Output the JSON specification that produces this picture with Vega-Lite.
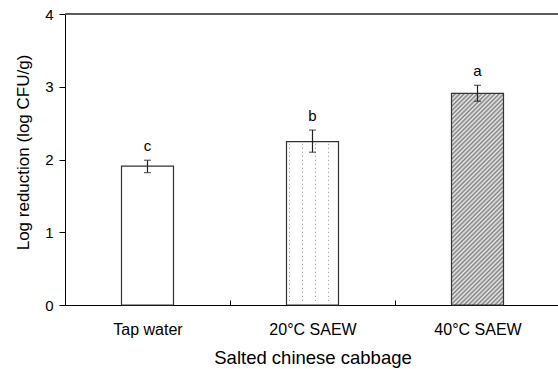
{
  "$schema": "https://vega.github.io/schema/vega-lite/v6.json",
  "autosize": "none",
  "padding": {"left": 65, "top": 14, "right": 0, "bottom": 64},
  "width": 493,
  "height": 291,
  "background": "white",
  "config": {"font": "Liberation Sans", "view": {"stroke": null}},
  "data": {"values": [
    {"treat": "Tap water", "mean": 1.91, "lo": 1.82, "hi": 1.99, "letter": "c"},
    {"treat": "20°C SAEW", "mean": 2.245, "lo": 2.10, "hi": 2.405, "letter": "b"},
    {"treat": "40°C SAEW", "mean": 2.91, "lo": 2.80, "hi": 3.02, "letter": "a"}
  ]},
  "layer": [
    {
      "encoding": {
        "x": {
          "field": "treat", "type": "nominal", "sort": null,
          "scale": {"range": [0, 495], "paddingInner": 0, "paddingOuter": 0},
          "axis": {
            "title": "Salted chinese cabbage", "titleFontSize": 18.5, "titleFontWeight": "normal", "titleColor": "black",
            "titleY": 43, "titleBaseline": "top",
            "labelAngle": 0, "labelFontSize": 16, "labelColor": "black", "labelPadding": 21,
            "tickBand": "extent", "tickSize": -5, "tickColor": "black", "domainColor": "black", "grid": false
          }
        }
      },
      "layer": [
        {
          "transform": [{"filter": "datum.letter === 'c'"}],
          "mark": {"type": "bar", "width": 52, "fill": "white", "stroke": "#333", "strokeWidth": 1.2},
          "encoding": {
            "y": {
              "field": "mean", "type": "quantitative",
              "scale": {"domain": [0, 4], "nice": false},
              "axis": {
                "values": [0, 0.5, 1, 1.5, 2, 2.5, 3, 3.5, 4], "format": "d",
                "labelExpr": "datum.value % 1 === 0 ? datum.label : ''",
                "tickSize": {"condition": {"test": "datum.value % 1 === 0", "value": 6}, "value": 3},
                "tickColor": "black", "domainColor": "black", "grid": false,
                "labelFontSize": 15, "labelColor": "black", "labelPadding": 6,
                "title": "Log reduction (log CFU/g)", "titleFontSize": 17, "titleFontWeight": "normal", "titleColor": "black",
                "titleX": -42, "titleY": 138, "titleBaseline": "middle", "titleAlign": "center", "titleAngle": -90
              }
            }
          }
        },
        {
          "transform": [{"filter": "datum.letter === 'b'"}],
          "mark": {"type": "bar", "width": 52, "strokeWidth": 0,
            "fill": {"gradient": "linear", "x1": 0, "y1": 0, "x2": 1, "y2": 0, "stops": [
              {"offset": 0, "color": "#ffffff"},
              {"offset": 0.0481, "color": "#ffffff"}, {"offset": 0.0481, "color": "#6e6e6e"}, {"offset": 0.0673, "color": "#6e6e6e"}, {"offset": 0.0673, "color": "#ffffff"},
              {"offset": 0.1731, "color": "#ffffff"}, {"offset": 0.1731, "color": "#6e6e6e"}, {"offset": 0.1923, "color": "#6e6e6e"}, {"offset": 0.1923, "color": "#ffffff"},
              {"offset": 0.2981, "color": "#ffffff"}, {"offset": 0.2981, "color": "#6e6e6e"}, {"offset": 0.3173, "color": "#6e6e6e"}, {"offset": 0.3173, "color": "#ffffff"},
              {"offset": 0.4231, "color": "#ffffff"}, {"offset": 0.4231, "color": "#6e6e6e"}, {"offset": 0.4423, "color": "#6e6e6e"}, {"offset": 0.4423, "color": "#ffffff"},
              {"offset": 0.5481, "color": "#ffffff"}, {"offset": 0.5481, "color": "#6e6e6e"}, {"offset": 0.5673, "color": "#6e6e6e"}, {"offset": 0.5673, "color": "#ffffff"},
              {"offset": 0.6731, "color": "#ffffff"}, {"offset": 0.6731, "color": "#6e6e6e"}, {"offset": 0.6923, "color": "#6e6e6e"}, {"offset": 0.6923, "color": "#ffffff"},
              {"offset": 0.7981, "color": "#ffffff"}, {"offset": 0.7981, "color": "#6e6e6e"}, {"offset": 0.8173, "color": "#6e6e6e"}, {"offset": 0.8173, "color": "#ffffff"},
              {"offset": 0.9231, "color": "#ffffff"}, {"offset": 0.9231, "color": "#6e6e6e"}, {"offset": 0.9423, "color": "#6e6e6e"}, {"offset": 0.9423, "color": "#ffffff"},
              {"offset": 1, "color": "#ffffff"}
            ]}},
          "encoding": {"y": {"field": "mean", "type": "quantitative"}}
        },
        {
          "transform": [{"filter": "datum.letter === 'b'"}],
          "mark": {"type": "bar", "width": 52, "stroke": "#333", "strokeWidth": 1.2,
            "fill": {"gradient": "linear", "x1": 0, "y1": 0, "x2": 0, "y2": 1, "stops": [
              {"offset": 0, "color": "#ffffff"},
              {"offset": 0.0104, "color": "#ffffff"}, {"offset": 0.0153, "color": "rgba(255,255,255,0)"}, {"offset": 0.0202, "color": "#ffffff"},
              {"offset": 0.0349, "color": "#ffffff"}, {"offset": 0.0398, "color": "rgba(255,255,255,0)"}, {"offset": 0.0447, "color": "#ffffff"},
              {"offset": 0.0594, "color": "#ffffff"}, {"offset": 0.0643, "color": "rgba(255,255,255,0)"}, {"offset": 0.0692, "color": "#ffffff"},
              {"offset": 0.0839, "color": "#ffffff"}, {"offset": 0.0888, "color": "rgba(255,255,255,0)"}, {"offset": 0.0937, "color": "#ffffff"},
              {"offset": 0.1084, "color": "#ffffff"}, {"offset": 0.1133, "color": "rgba(255,255,255,0)"}, {"offset": 0.1182, "color": "#ffffff"},
              {"offset": 0.1329, "color": "#ffffff"}, {"offset": 0.1378, "color": "rgba(255,255,255,0)"}, {"offset": 0.1427, "color": "#ffffff"},
              {"offset": 0.1574, "color": "#ffffff"}, {"offset": 0.1623, "color": "rgba(255,255,255,0)"}, {"offset": 0.1672, "color": "#ffffff"},
              {"offset": 0.1819, "color": "#ffffff"}, {"offset": 0.1868, "color": "rgba(255,255,255,0)"}, {"offset": 0.1917, "color": "#ffffff"},
              {"offset": 0.2064, "color": "#ffffff"}, {"offset": 0.2113, "color": "rgba(255,255,255,0)"}, {"offset": 0.2162, "color": "#ffffff"},
              {"offset": 0.2309, "color": "#ffffff"}, {"offset": 0.2358, "color": "rgba(255,255,255,0)"}, {"offset": 0.2406, "color": "#ffffff"},
              {"offset": 0.2554, "color": "#ffffff"}, {"offset": 0.2603, "color": "rgba(255,255,255,0)"}, {"offset": 0.2651, "color": "#ffffff"},
              {"offset": 0.2799, "color": "#ffffff"}, {"offset": 0.2848, "color": "rgba(255,255,255,0)"}, {"offset": 0.2896, "color": "#ffffff"},
              {"offset": 0.3043, "color": "#ffffff"}, {"offset": 0.3092, "color": "rgba(255,255,255,0)"}, {"offset": 0.3141, "color": "#ffffff"},
              {"offset": 0.3288, "color": "#ffffff"}, {"offset": 0.3337, "color": "rgba(255,255,255,0)"}, {"offset": 0.3386, "color": "#ffffff"},
              {"offset": 0.3533, "color": "#ffffff"}, {"offset": 0.3582, "color": "rgba(255,255,255,0)"}, {"offset": 0.3631, "color": "#ffffff"},
              {"offset": 0.3778, "color": "#ffffff"}, {"offset": 0.3827, "color": "rgba(255,255,255,0)"}, {"offset": 0.3876, "color": "#ffffff"},
              {"offset": 0.4023, "color": "#ffffff"}, {"offset": 0.4072, "color": "rgba(255,255,255,0)"}, {"offset": 0.4121, "color": "#ffffff"},
              {"offset": 0.4268, "color": "#ffffff"}, {"offset": 0.4317, "color": "rgba(255,255,255,0)"}, {"offset": 0.4366, "color": "#ffffff"},
              {"offset": 0.4513, "color": "#ffffff"}, {"offset": 0.4562, "color": "rgba(255,255,255,0)"}, {"offset": 0.4611, "color": "#ffffff"},
              {"offset": 0.4758, "color": "#ffffff"}, {"offset": 0.4807, "color": "rgba(255,255,255,0)"}, {"offset": 0.4856, "color": "#ffffff"},
              {"offset": 0.5003, "color": "#ffffff"}, {"offset": 0.5052, "color": "rgba(255,255,255,0)"}, {"offset": 0.5101, "color": "#ffffff"},
              {"offset": 0.5248, "color": "#ffffff"}, {"offset": 0.5297, "color": "rgba(255,255,255,0)"}, {"offset": 0.5346, "color": "#ffffff"},
              {"offset": 0.5493, "color": "#ffffff"}, {"offset": 0.5542, "color": "rgba(255,255,255,0)"}, {"offset": 0.5591, "color": "#ffffff"},
              {"offset": 0.5738, "color": "#ffffff"}, {"offset": 0.5787, "color": "rgba(255,255,255,0)"}, {"offset": 0.5836, "color": "#ffffff"},
              {"offset": 0.5983, "color": "#ffffff"}, {"offset": 0.6032, "color": "rgba(255,255,255,0)"}, {"offset": 0.6081, "color": "#ffffff"},
              {"offset": 0.6228, "color": "#ffffff"}, {"offset": 0.6277, "color": "rgba(255,255,255,0)"}, {"offset": 0.6326, "color": "#ffffff"},
              {"offset": 0.6473, "color": "#ffffff"}, {"offset": 0.6522, "color": "rgba(255,255,255,0)"}, {"offset": 0.6571, "color": "#ffffff"},
              {"offset": 0.6718, "color": "#ffffff"}, {"offset": 0.6767, "color": "rgba(255,255,255,0)"}, {"offset": 0.6816, "color": "#ffffff"},
              {"offset": 0.6963, "color": "#ffffff"}, {"offset": 0.7012, "color": "rgba(255,255,255,0)"}, {"offset": 0.7061, "color": "#ffffff"},
              {"offset": 0.7208, "color": "#ffffff"}, {"offset": 0.7257, "color": "rgba(255,255,255,0)"}, {"offset": 0.7306, "color": "#ffffff"},
              {"offset": 0.7453, "color": "#ffffff"}, {"offset": 0.7502, "color": "rgba(255,255,255,0)"}, {"offset": 0.7551, "color": "#ffffff"},
              {"offset": 0.7698, "color": "#ffffff"}, {"offset": 0.7747, "color": "rgba(255,255,255,0)"}, {"offset": 0.7796, "color": "#ffffff"},
              {"offset": 0.7943, "color": "#ffffff"}, {"offset": 0.7991, "color": "rgba(255,255,255,0)"}, {"offset": 0.8040, "color": "#ffffff"},
              {"offset": 0.8188, "color": "#ffffff"}, {"offset": 0.8236, "color": "rgba(255,255,255,0)"}, {"offset": 0.8285, "color": "#ffffff"},
              {"offset": 0.8433, "color": "#ffffff"}, {"offset": 0.8481, "color": "rgba(255,255,255,0)"}, {"offset": 0.8530, "color": "#ffffff"},
              {"offset": 0.8678, "color": "#ffffff"}, {"offset": 0.8726, "color": "rgba(255,255,255,0)"}, {"offset": 0.8775, "color": "#ffffff"},
              {"offset": 0.8923, "color": "#ffffff"}, {"offset": 0.8971, "color": "rgba(255,255,255,0)"}, {"offset": 0.9020, "color": "#ffffff"},
              {"offset": 0.9168, "color": "#ffffff"}, {"offset": 0.9216, "color": "rgba(255,255,255,0)"}, {"offset": 0.9265, "color": "#ffffff"},
              {"offset": 0.9413, "color": "#ffffff"}, {"offset": 0.9461, "color": "rgba(255,255,255,0)"}, {"offset": 0.9510, "color": "#ffffff"},
              {"offset": 0.9658, "color": "#ffffff"}, {"offset": 0.9706, "color": "rgba(255,255,255,0)"}, {"offset": 0.9755, "color": "#ffffff"},
              {"offset": 1, "color": "#ffffff"}
            ]}},
          "encoding": {"y": {"field": "mean", "type": "quantitative"}}
        },
        {
          "transform": [{"filter": "datum.letter === 'a'"}],
          "mark": {"type": "bar", "width": 52, "stroke": "#333", "strokeWidth": 1.2,
            "fill": {"gradient": "linear", "x1": 0, "y1": 0, "x2": 0.2886, "y2": 1.1747, "stops": [
              {"offset": 0, "color": "#808080"}, {"offset": 0.0083, "color": "#ececec"}, {"offset": 0.0167, "color": "#808080"}, {"offset": 0.025, "color": "#ececec"},
              {"offset": 0.0333, "color": "#808080"}, {"offset": 0.0417, "color": "#ececec"}, {"offset": 0.05, "color": "#808080"}, {"offset": 0.0583, "color": "#ececec"},
              {"offset": 0.0667, "color": "#808080"}, {"offset": 0.075, "color": "#ececec"}, {"offset": 0.0833, "color": "#808080"}, {"offset": 0.0917, "color": "#ececec"},
              {"offset": 0.1, "color": "#808080"}, {"offset": 0.1083, "color": "#ececec"}, {"offset": 0.1167, "color": "#808080"}, {"offset": 0.125, "color": "#ececec"},
              {"offset": 0.1333, "color": "#808080"}, {"offset": 0.1417, "color": "#ececec"}, {"offset": 0.15, "color": "#808080"}, {"offset": 0.1583, "color": "#ececec"},
              {"offset": 0.1667, "color": "#808080"}, {"offset": 0.175, "color": "#ececec"}, {"offset": 0.1833, "color": "#808080"}, {"offset": 0.1917, "color": "#ececec"},
              {"offset": 0.2, "color": "#808080"}, {"offset": 0.2083, "color": "#ececec"}, {"offset": 0.2167, "color": "#808080"}, {"offset": 0.225, "color": "#ececec"},
              {"offset": 0.2333, "color": "#808080"}, {"offset": 0.2417, "color": "#ececec"}, {"offset": 0.25, "color": "#808080"}, {"offset": 0.2583, "color": "#ececec"},
              {"offset": 0.2667, "color": "#808080"}, {"offset": 0.275, "color": "#ececec"}, {"offset": 0.2833, "color": "#808080"}, {"offset": 0.2917, "color": "#ececec"},
              {"offset": 0.3, "color": "#808080"}, {"offset": 0.3083, "color": "#ececec"}, {"offset": 0.3167, "color": "#808080"}, {"offset": 0.325, "color": "#ececec"},
              {"offset": 0.3333, "color": "#808080"}, {"offset": 0.3417, "color": "#ececec"}, {"offset": 0.35, "color": "#808080"}, {"offset": 0.3583, "color": "#ececec"},
              {"offset": 0.3667, "color": "#808080"}, {"offset": 0.375, "color": "#ececec"}, {"offset": 0.3833, "color": "#808080"}, {"offset": 0.3917, "color": "#ececec"},
              {"offset": 0.4, "color": "#808080"}, {"offset": 0.4083, "color": "#ececec"}, {"offset": 0.4167, "color": "#808080"}, {"offset": 0.425, "color": "#ececec"},
              {"offset": 0.4333, "color": "#808080"}, {"offset": 0.4417, "color": "#ececec"}, {"offset": 0.45, "color": "#808080"}, {"offset": 0.4583, "color": "#ececec"},
              {"offset": 0.4667, "color": "#808080"}, {"offset": 0.475, "color": "#ececec"}, {"offset": 0.4833, "color": "#808080"}, {"offset": 0.4917, "color": "#ececec"},
              {"offset": 0.5, "color": "#808080"}, {"offset": 0.5083, "color": "#ececec"}, {"offset": 0.5167, "color": "#808080"}, {"offset": 0.525, "color": "#ececec"},
              {"offset": 0.5333, "color": "#808080"}, {"offset": 0.5417, "color": "#ececec"}, {"offset": 0.55, "color": "#808080"}, {"offset": 0.5583, "color": "#ececec"},
              {"offset": 0.5667, "color": "#808080"}, {"offset": 0.575, "color": "#ececec"}, {"offset": 0.5833, "color": "#808080"}, {"offset": 0.5917, "color": "#ececec"},
              {"offset": 0.6, "color": "#808080"}, {"offset": 0.6083, "color": "#ececec"}, {"offset": 0.6167, "color": "#808080"}, {"offset": 0.625, "color": "#ececec"},
              {"offset": 0.6333, "color": "#808080"}, {"offset": 0.6417, "color": "#ececec"}, {"offset": 0.65, "color": "#808080"}, {"offset": 0.6583, "color": "#ececec"},
              {"offset": 0.6667, "color": "#808080"}, {"offset": 0.675, "color": "#ececec"}, {"offset": 0.6833, "color": "#808080"}, {"offset": 0.6917, "color": "#ececec"},
              {"offset": 0.7, "color": "#808080"}, {"offset": 0.7083, "color": "#ececec"}, {"offset": 0.7167, "color": "#808080"}, {"offset": 0.725, "color": "#ececec"},
              {"offset": 0.7333, "color": "#808080"}, {"offset": 0.7417, "color": "#ececec"}, {"offset": 0.75, "color": "#808080"}, {"offset": 0.7583, "color": "#ececec"},
              {"offset": 0.7667, "color": "#808080"}, {"offset": 0.775, "color": "#ececec"}, {"offset": 0.7833, "color": "#808080"}, {"offset": 0.7917, "color": "#ececec"},
              {"offset": 0.8, "color": "#808080"}, {"offset": 0.8083, "color": "#ececec"}, {"offset": 0.8167, "color": "#808080"}, {"offset": 0.825, "color": "#ececec"},
              {"offset": 0.8333, "color": "#808080"}, {"offset": 0.8417, "color": "#ececec"}, {"offset": 0.85, "color": "#808080"}, {"offset": 0.8583, "color": "#ececec"},
              {"offset": 0.8667, "color": "#808080"}, {"offset": 0.875, "color": "#ececec"}, {"offset": 0.8833, "color": "#808080"}, {"offset": 0.8917, "color": "#ececec"},
              {"offset": 0.9, "color": "#808080"}, {"offset": 0.9083, "color": "#ececec"}, {"offset": 0.9167, "color": "#808080"}, {"offset": 0.925, "color": "#ececec"},
              {"offset": 0.9333, "color": "#808080"}, {"offset": 0.9417, "color": "#ececec"}, {"offset": 0.95, "color": "#808080"}, {"offset": 0.9583, "color": "#ececec"},
              {"offset": 0.9667, "color": "#808080"}, {"offset": 0.975, "color": "#ececec"}, {"offset": 0.9833, "color": "#808080"}, {"offset": 0.9917, "color": "#ececec"},
              {"offset": 1, "color": "#808080"}
            ]}},
          "encoding": {"y": {"field": "mean", "type": "quantitative"}}
        },
        {
          "mark": {"type": "rule", "color": "#222", "strokeWidth": 1.2},
          "encoding": {"y": {"field": "lo", "type": "quantitative"}, "y2": {"field": "hi"}}
        },
        {
          "mark": {"type": "tick", "color": "#222", "size": 7, "thickness": 1.2},
          "encoding": {"y": {"field": "hi", "type": "quantitative"}}
        },
        {
          "mark": {"type": "tick", "color": "#222", "size": 7, "thickness": 1.2},
          "encoding": {"y": {"field": "lo", "type": "quantitative"}}
        },
        {
          "mark": {"type": "text", "baseline": "alphabetic", "dy": -9, "fontSize": 15, "fill": "black"},
          "encoding": {"y": {"field": "hi", "type": "quantitative"}, "text": {"field": "letter"}}
        }
      ]
    },
    {
      "mark": {"type": "rule", "color": "#444", "strokeWidth": 1},
      "encoding": {"y": {"datum": 4, "type": "quantitative"}}
    }
  ]
}
